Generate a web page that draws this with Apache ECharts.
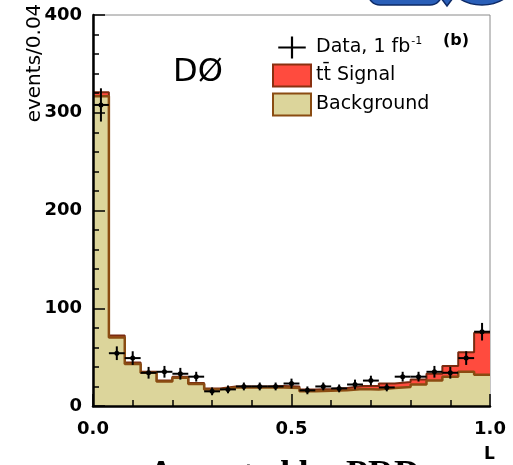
<!DOCTYPE html>
<html>
<head>
<meta charset="utf-8">
<script src="https://cdn.jsdelivr.net/npm/echarts@6/dist/echarts.min.js"></script>
<style>
  html, body { margin: 0; padding: 0; background: #fff; }
  #chart { width: 513px; height: 465px; }
</style>
</head>
<body>
<div id="chart"></div>
<script>
// bin lower edges (width 0.04)
const binStart = [0.00, 0.04, 0.08, 0.12, 0.16, 0.20, 0.24, 0.28, 0.32, 0.36, 0.40, 0.44, 0.48,
  0.52, 0.56, 0.60, 0.64, 0.68, 0.72, 0.76, 0.80, 0.84, 0.88, 0.92, 0.96]
const binWidth = 0.04
const background = [317, 70, 43, 34, 25, 29, 22.5, 17, 19, 19, 19, 19, 18.5,
  15, 15.5, 16, 17.5, 17, 18.5, 19.5, 22, 26, 30, 35, 32]
const signal = [4, 2, 1.5, 1, 1, 1, 1, 1, 1, 1, 1, 1.5, 1.5,
  2, 2, 2.5, 3, 3.5, 4.5, 5, 5, 7, 11, 20, 43]
const data = [308, 54, 49, 34, 35, 33, 30, 15, 17, 20, 20, 20, 23,
  16, 20, 18, 22, 26, 19, 30, 30, 35, 34, 49, 76]
const dataErr = [17, 7, 7, 6, 6, 6, 5, 4, 4, 4, 4, 4, 5,
  4, 4, 4, 5, 5, 4, 5, 5, 6, 6, 7, 9]
const yTicks = [0, 100, 200, 300, 400]
const xTicks = [0.0, 0.5, 1.0]

const font = 'DejaVu Sans'

// step points: one per bin edge, last value repeated at x = 1.0
function steps(vals) {
  const pts = binStart.map((x, i) => [x, vals[i]])
  pts.push([binStart[binStart.length - 1] + binWidth, vals[vals.length - 1]])
  return pts
}
// signal sits on top of background
const total = background.map((b, i) => b + signal[i])

const chart = echarts.init(document.getElementById('chart'))
const option = {
  backgroundColor: '#fff',
  animation: false,
  grid: {
    left: 93, right: 23, top: 15, bottom: 59,
    show: true, borderColor: '#8a8a8a', borderWidth: 1
  },
  xAxis: {
    type: 'value',
    min: xTicks[0],
    max: xTicks[xTicks.length - 1],
    interval: 0.5,
    z: 10,
    axisLine: { lineStyle: { color: '#000', width: 2.5 } },
    axisTick: { inside: true, length: 12, lineStyle: { color: '#000', width: 1.5 } },
    minorTick: { show: true, splitNumber: 5, length: 6, lineStyle: { color: '#000', width: 1.5 } },
    splitLine: { show: false },
    axisLabel: {
      margin: 14,
      color: '#000',
      fontFamily: font,
      fontWeight: 'bold',
      fontSize: 18,
      formatter: v => v.toFixed(1)
    }
  },
  yAxis: {
    type: 'value',
    min: yTicks[0],
    max: yTicks[yTicks.length - 1],
    interval: 100,
    z: 10,
    axisLine: { show: true, lineStyle: { color: '#000', width: 2.5 } },
    axisTick: { show: true, inside: true, length: 12, lineStyle: { color: '#000', width: 1.5 } },
    minorTick: { show: true, splitNumber: 5, length: 6, lineStyle: { color: '#000', width: 1.5 } },
    splitLine: { show: false },
    axisLabel: {
      margin: 11,
      color: '#000',
      fontFamily: font,
      fontWeight: 'bold',
      fontSize: 18
    }
  },
  legend: {
    left: 267,
    top: 31,
    orient: 'vertical',
    itemWidth: 38,
    itemHeight: 22,
    itemGap: 5,
    selectedMode: false,
    textStyle: {
      fontFamily: font,
      fontSize: 19,
      color: '#000',
      rich: {
        sup: { fontFamily: font, fontSize: 11, verticalAlign: 'top', padding: [0, 0, 12, 1] }
      }
    },
    formatter: name => name === 'Data' ? 'Data, 1 fb{sup|-1}' : name,
    data: [
      { name: 'Data', icon: 'path://M0,9H25V11H0Z M11.5,0H13.5V20H11.5Z', itemStyle: { color: '#000' } },
      { name: 'tt\u0304 Signal', icon: 'rect', itemStyle: { color: '#ff4b3e', borderColor: '#8a3010', borderWidth: 2 } },
      { name: 'Background', icon: 'rect', itemStyle: { color: '#dcd59b', borderColor: '#8a4c12', borderWidth: 2 } }
    ]
  },
  graphic: [
    { type: 'text', left: 173, top: 57, style: { text: 'DØ', fontFamily: font, fontSize: 32, fill: '#000' } },
    { type: 'text', left: 443, top: 33, style: { text: '(b)', fontFamily: font, fontWeight: 'bold', fontSize: 16, fill: '#000' } },
    { type: 'text', x: 35, y: 63, rotation: Math.PI / 2,
      style: { text: 'events/0.04', fontFamily: font, fontSize: 20, fill: '#000', align: 'center', verticalAlign: 'middle' } },
    { type: 'text', x: 484, y: 446, style: { text: 'L', fontFamily: font, fontWeight: 'bold', fontSize: 17, fill: '#000' } },
    { type: 'text', x: 148, y: 458,
      style: { text: 'Accepted by PRD', fontFamily: 'Liberation Serif', fontWeight: 'bold', fontSize: 36, fill: '#000', verticalAlign: 'top' } },
    { type: 'rect', shape: { x: 368, y: -30, width: 74, height: 35, r: 12 },
      style: { fill: '#2a5fb8', stroke: '#0d2a66', lineWidth: 1.5 } },
    { type: 'polygon', shape: { points: [[441, -2], [453, -2], [447, 6]] },
      style: { fill: '#2a5fb8', stroke: '#0d2a66', lineWidth: 1.5 } },
    { type: 'ellipse', shape: { cx: 482, cy: -14, rx: 30, ry: 19 },
      style: { fill: '#2a5fb8', stroke: '#0d2a66', lineWidth: 1.5 } }
  ],
  series: [
    {
      name: 'tt\u0304 Signal',
      type: 'line',
      step: 'end',
      symbol: 'none',
      data: steps(total),
      lineStyle: { color: '#7a2a10', width: 2 },
      areaStyle: { color: '#ff4b3e', opacity: 1 },
      itemStyle: { color: '#ff4b3e' },
      z: 2
    },
    {
      name: 'Background',
      type: 'line',
      step: 'end',
      symbol: 'none',
      data: steps(background),
      lineStyle: { color: '#8a4c12', width: 2.5 },
      areaStyle: { color: '#dcd59b', opacity: 1 },
      itemStyle: { color: '#dcd59b' },
      z: 3
    },
    {
      name: 'Data',
      type: 'custom',
      z: 5,
      itemStyle: { color: '#000' },
      data: binStart.map((x, i) => [x + binWidth / 2, data[i], dataErr[i]]),
      renderItem: function(params, api) {
        const c = api.coord([api.value(0), api.value(1)])
        const top = api.coord([api.value(0), api.value(1) + api.value(2)])
        const bot = api.coord([api.value(0), api.value(1) - api.value(2)])
        const half = api.size([binWidth, 0])[0] / 2
        const st = { stroke: '#000', lineWidth: 2 }
        return {
          type: 'group',
          children: [
            { type: 'line', shape: { x1: c[0] - half, y1: c[1], x2: c[0] + half, y2: c[1] }, style: st },
            { type: 'line', shape: { x1: c[0], y1: top[1], x2: c[0], y2: bot[1] }, style: st },
            { type: 'circle', shape: { cx: c[0], cy: c[1], r: 2.5 }, style: { fill: '#000' } }
          ]
        }
      }
    }
  ]
}
chart.setOption(option)
window.addEventListener('resize', () => {
  chart.resize()
}, false)
</script>
</body>
</html>
